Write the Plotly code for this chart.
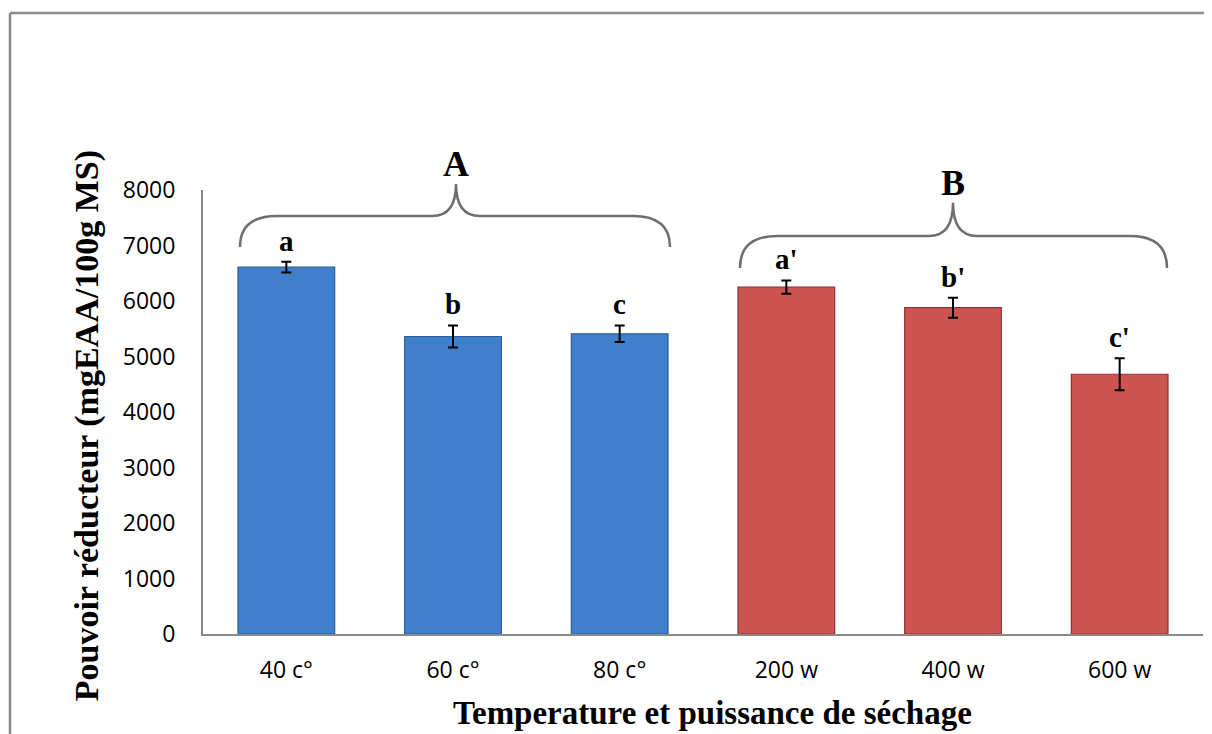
import plotly.graph_objects as go

categories = ["40 c°", "60 c°", "80 c°", "200 w", "400 w", "600 w"]
values = [6610, 5360, 5410, 6250, 5880, 4680]
errors = [95, 200, 150, 120, 180, 290]
letters = ["a", "b", "c", "a'", "b'", "c'"]
groups = ["A", "A", "A", "B", "B", "B"]
y_ticks = [0, 1000, 2000, 3000, 4000, 5000, 6000, 7000, 8000]

COLORS = {"A": "#3f7fcc", "B": "#cc5552"}
EDGES = {"A": "#2c5c96", "B": "#8e3431"}

# figure geometry (page has an 8px body margin)
W, H = 1204, 726
L, T, PW, PH = 195, 182, 1000, 444

x_idx = list(range(len(categories)))
fig = go.Figure()
for g in ["A", "B"]:
    xs = [i for i in x_idx if groups[i] == g]
    fig.add_trace(go.Bar(
        x=xs, y=[values[i] for i in xs],
        error_y=dict(type="data", array=[errors[i] for i in xs], color="black",
                     thickness=2, width=5),
        marker=dict(color=COLORS[g], line=dict(color=EDGES[g], width=1.2)),
        width=0.58, showlegend=False, cliponaxis=False,
    ))

serif = "Liberation Serif, Times New Roman, serif"

# significance letters above error bars
for i in x_idx:
    fig.add_annotation(x=i, y=values[i] + errors[i], xref="x", yref="y",
                       text=f"<b>{letters[i]}</b>", showarrow=False,
                       xanchor="center", yanchor="bottom", yshift=3,
                       font=dict(family=serif, size=29, color="black"))

n = len(categories)
ymax = 8000.0
def px(i):
    return (i + 0.5) / n
def py(v):
    return v / ymax

def brace(xi0, xi1, xim, v_end, v_h, v_peak, curl=0.037, curl2=0.024):
    x0, x1, xm = px(xi0), px(xi1), px(xim)
    ye, yh, yp = py(v_end), py(v_h), py(v_peak)
    return (f"M {x0},{ye} Q {x0},{yh} {x0+curl},{yh} L {xm-curl2},{yh} "
            f"Q {xm},{yh} {xm},{yp} Q {xm},{yh} {xm+curl2},{yh} "
            f"L {x1-curl},{yh} Q {x1},{yh} {x1},{ye}")

brace_defs = {
    "A": dict(xi0=-0.278, xi1=2.302, xim=1.018, v_end=6973, v_h=7532, v_peak=8110),
    "B": dict(xi0=2.722, xi1=5.284, xim=4.0, v_end=6595, v_h=7171, v_peak=7770),
}
for g, d in brace_defs.items():
    fig.add_shape(type="path", path=brace(**d), xref="paper", yref="paper",
                  line=dict(color="#6e6e6e", width=2.5))
    fig.add_annotation(x=px(d["xim"]), y=py(d["v_peak"]), xref="paper", yref="paper",
                       text=f"<b>{g}</b>", showarrow=False,
                       xanchor="center", yanchor="bottom", yshift=-2,
                       font=dict(family=serif, size=36, color="black"))

# outer frame (top and left edges), screenshot px (10, 13)
fx = (10 - 8 - L) / PW
fy = (T + PH - (13 - 8)) / PH
fig.add_shape(type="line", xref="paper", yref="paper",
              x0=fx, x1=(W - L) / PW, y0=fy, y1=fy,
              line=dict(color="#8a8a8a", width=2.5))
fig.add_shape(type="line", xref="paper", yref="paper",
              x0=fx, x1=fx, y0=fy, y1=-(H - T - PH) / PH,
              line=dict(color="#8a8a8a", width=2.5))

# axis titles
fig.add_annotation(x=-0.116, y=0.468, xref="paper", yref="paper", textangle=-90,
                   xanchor="center", yanchor="middle",
                   text="<b>Pouvoir réducteur (mgEAA/100g MS)</b>", showarrow=False,
                   font=dict(family=serif, size=34, color="black"))
fig.add_annotation(x=0.509, y=-0.178, xref="paper", yref="paper",
                   xanchor="center", yanchor="middle",
                   text="<b>Temperature et puissance de séchage</b>", showarrow=False,
                   font=dict(family=serif, size=33, color="black"))

tick_font = dict(family="Open Sans, Lato, sans-serif", size=23, color="black")
fig.update_xaxes(tickvals=x_idx, ticktext=categories, range=[-0.5, n - 0.5],
                 showline=True, linecolor="#8a8a8a", linewidth=2, showgrid=False,
                 ticks="", tickfont=tick_font, ticklabelstandoff=14, zeroline=False)
fig.update_yaxes(range=[0, ymax], tickvals=y_ticks, showline=True, linecolor="#8a8a8a",
                 linewidth=2, showgrid=False, ticks="", tickfont=tick_font,
                 ticklabelstandoff=21, zeroline=False)

fig.update_layout(
    width=W, height=H,
    margin=dict(l=L, r=W - L - PW, t=T, b=H - T - PH),
    plot_bgcolor="white", paper_bgcolor="white",
    bargap=0.42,
)
fig.write_html("out.html")
